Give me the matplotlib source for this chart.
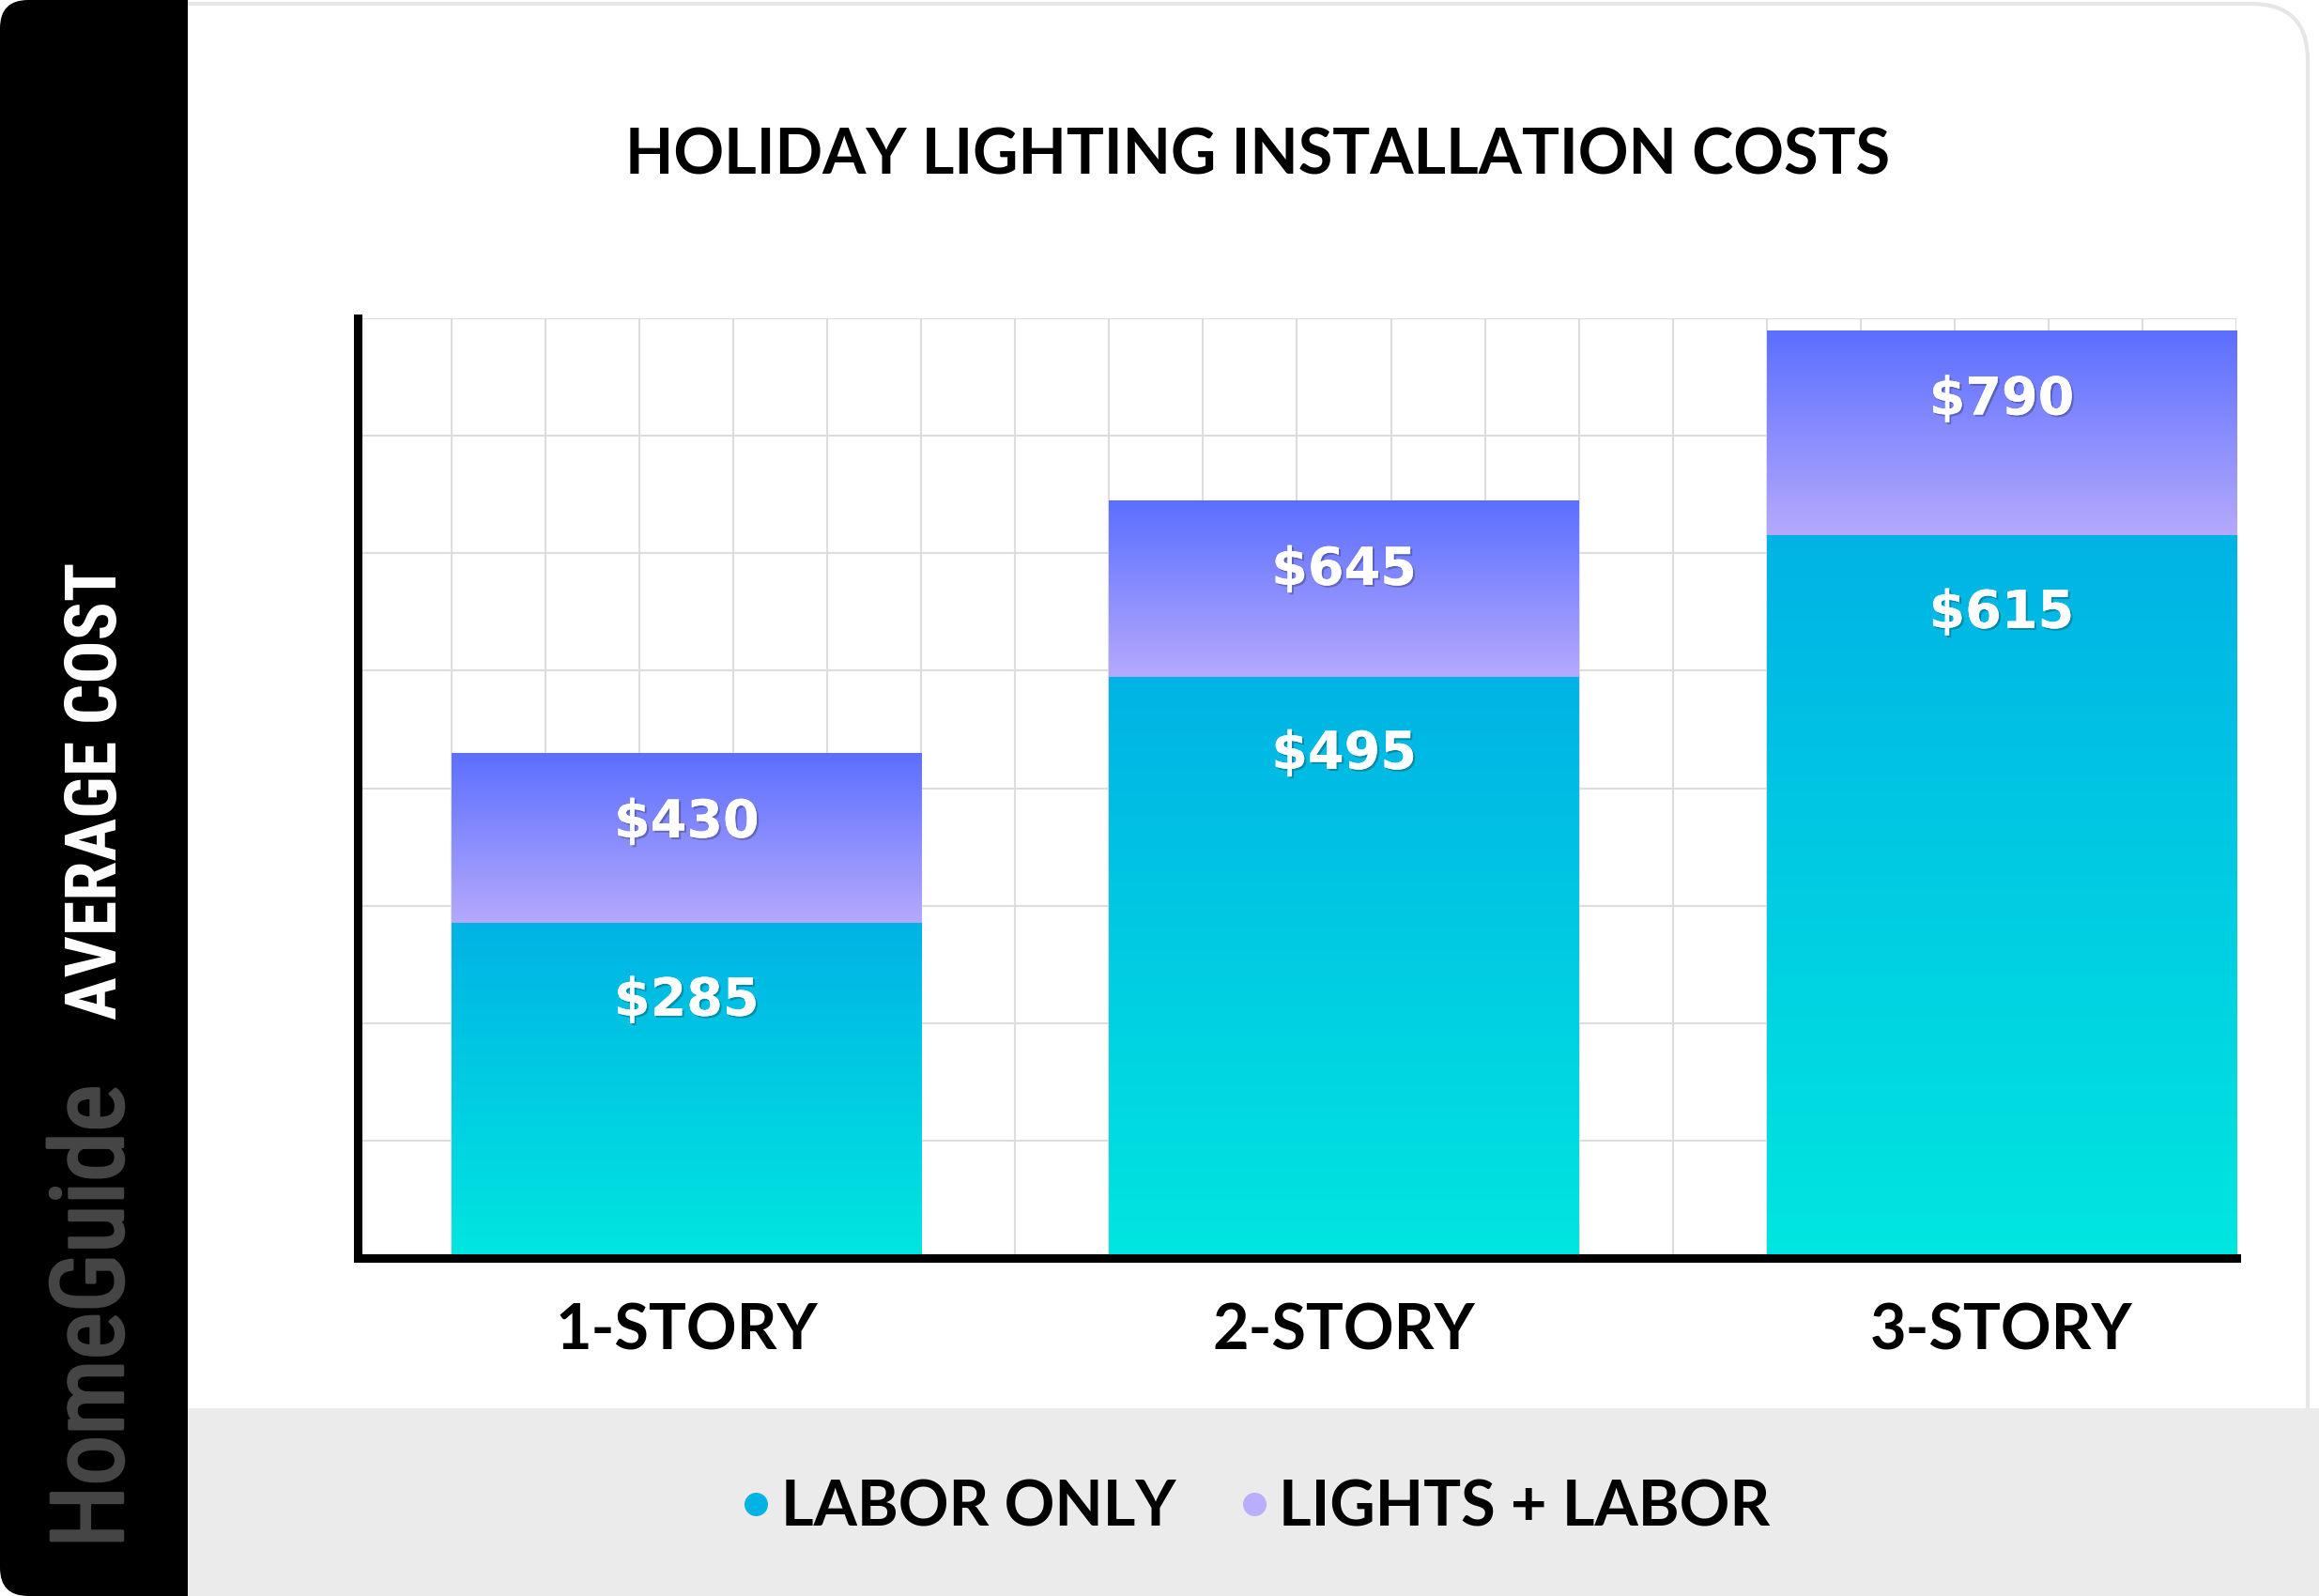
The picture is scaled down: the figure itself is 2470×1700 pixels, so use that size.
import numpy as np
import matplotlib
matplotlib.use("Agg")
import matplotlib.pyplot as plt
import matplotlib.patheffects as pe
from matplotlib import font_manager
from matplotlib.colors import to_rgb
from matplotlib.lines import Line2D
from matplotlib.patches import FancyBboxPatch, Rectangle

# data
categories = ["1-STORY", "2-STORY", "3-STORY"]
labor_only = [285, 495, 615]
lights_labor = [430, 645, 790]
series_names = ["LABOR ONLY", "LIGHTS + LABOR"]
title = "HOLIDAY LIGHTING INSTALLATION COSTS"

# colours (top, bottom of gradient)
LABOR_TOP, LABOR_BOT = "#00b3e5", "#00e6e0"
LIGHTS_TOP, LIGHTS_BOT = "#5b6fff", "#b5a9fc"

installed = {f.name for f in font_manager.fontManager.ttflist}


def pick(*names):
    for n in names:
        if n in installed:
            return n
    return "DejaVu Sans"


HEAD = pick("Lato", "Open Sans", "DejaVu Sans")
NARROW = pick("Liberation Sans Narrow", "Roboto Condensed", "Liberation Sans")

W, H = 2470, 1700
fig = plt.figure(figsize=(W / 100, H / 100), dpi=100)
fig.patch.set_facecolor("white")

# background canvas in pixel units
bg = fig.add_axes([0, 0, 1, 1], zorder=0)
bg.set_xlim(0, W)
bg.set_ylim(H, 0)
bg.axis("off")
bg.add_patch(FancyBboxPatch((120, 4), 2338, 1900, boxstyle="round,pad=0,rounding_size=60",
                            fc="white", ec="#e6e6e6", lw=3))
bg.add_patch(FancyBboxPatch((0, 0), 200, H, boxstyle="round,pad=0,rounding_size=30",
                            fc="black", ec="none"))
bg.add_patch(Rectangle((100, 0), 100, H, fc="black", ec="none"))
bg.add_patch(Rectangle((200, 1500), W - 200, 200, fc="#ebebeb", ec="none"))
bg.text(104, 842, "AVERAGE COST", rotation=90, ha="center", va="center",
        color="white", family=NARROW, weight="bold", fontsize=55)
bg.text(101, 1402, "HomeGuide", rotation=90, ha="center", va="center",
        color="#454545", family=NARROW, fontsize=77,
        path_effects=[pe.withStroke(linewidth=2.5, foreground="#454545")])

# main chart
ax = fig.add_axes([381 / W, 1 - 1340 / H, (2382 - 381) / W, (1340 - 339) / H], zorder=1)
ax.patch.set_facecolor("none")

x = np.arange(len(categories))
width = 5 / 7
bars_lights = ax.bar(x, lights_labor, width, color=LIGHTS_BOT, zorder=2)
bars_labor = ax.bar(x, labor_only, width, color=LABOR_BOT, zorder=3)


def gradient(top, bottom):
    t = np.linspace(0, 1, 256)[:, None, None]
    return np.array(to_rgb(top))[None, None, :] * (1 - t) + np.array(to_rgb(bottom))[None, None, :] * t


for xi, lab, tot, pl, pb in zip(x, labor_only, lights_labor, bars_lights, bars_labor):
    im = ax.imshow(gradient(LIGHTS_TOP, LIGHTS_BOT), extent=(xi - width / 2, xi + width / 2, lab, tot),
                   aspect="auto", origin="upper", zorder=2.5, interpolation="bilinear")
    im.set_clip_path(pl)
    im = ax.imshow(gradient(LABOR_TOP, LABOR_BOT), extent=(xi - width / 2, xi + width / 2, 0, lab),
                   aspect="auto", origin="upper", zorder=3.5, interpolation="bilinear")
    im.set_clip_path(pb)

shadow = [pe.withSimplePatchShadow(offset=(1.5, -1.5), shadow_rgbFace="black", alpha=0.25), pe.Normal()]
for xi, lab, tot in zip(x, labor_only, lights_labor):
    for v, off in ((lab, -60), (tot, -54)):
        ax.annotate(f"${v}", (xi, v), xytext=(0, off), textcoords="offset points",
                    ha="center", va="center", color="white", fontsize=40, weight="bold",
                    family="DejaVu Sans", zorder=6, path_effects=shadow)

ax.set_xlim(-0.5, 2 + 2.5 / 7)
ax.set_ylim(0, 800)
ax.set_xticks(x, categories)
ax.set_xticks(np.arange(-0.5, 2 + 2.5 / 7 + 1e-6, 1 / 7), minor=True)
ax.set_yticks(np.arange(0, 801, 100))
ax.set_yticklabels([])
ax.tick_params(which="both", length=0)
ax.tick_params(axis="x", which="major", pad=34)
for lbl in ax.get_xticklabels():
    lbl.set_fontsize(48)
    lbl.set_fontweight("bold")
    lbl.set_family(HEAD)
ax.set_axisbelow(True)
ax.xaxis.grid(True, which="minor", color="#dddddd", lw=1.5)
ax.xaxis.grid(False, which="major")
ax.yaxis.grid(True, which="major", color="#dddddd", lw=1.5)
for s in ("top", "right"):
    ax.spines[s].set_visible(False)
for s in ("left", "bottom"):
    ax.spines[s].set_linewidth(6.5)
    ax.spines[s].set_zorder(10)

fig.text(1339 / W, 1 - 167 / H, title, ha="center", va="center",
         fontsize=48, weight="bold", family=HEAD)

handles = [Line2D([], [], ls="", marker="o", markersize=18, color=c, markeredgewidth=0)
           for c in (LABOR_TOP, "#b8aefc")]
fig.legend(handles, series_names, loc="center", bbox_to_anchor=(1337 / W, 1 - 1606 / H),
           ncol=2, frameon=False, handlelength=0.5, handletextpad=0.15, columnspacing=1.0,
           prop={"family": HEAD, "weight": "bold", "size": 48})

fig.savefig("out.png", dpi=100)
